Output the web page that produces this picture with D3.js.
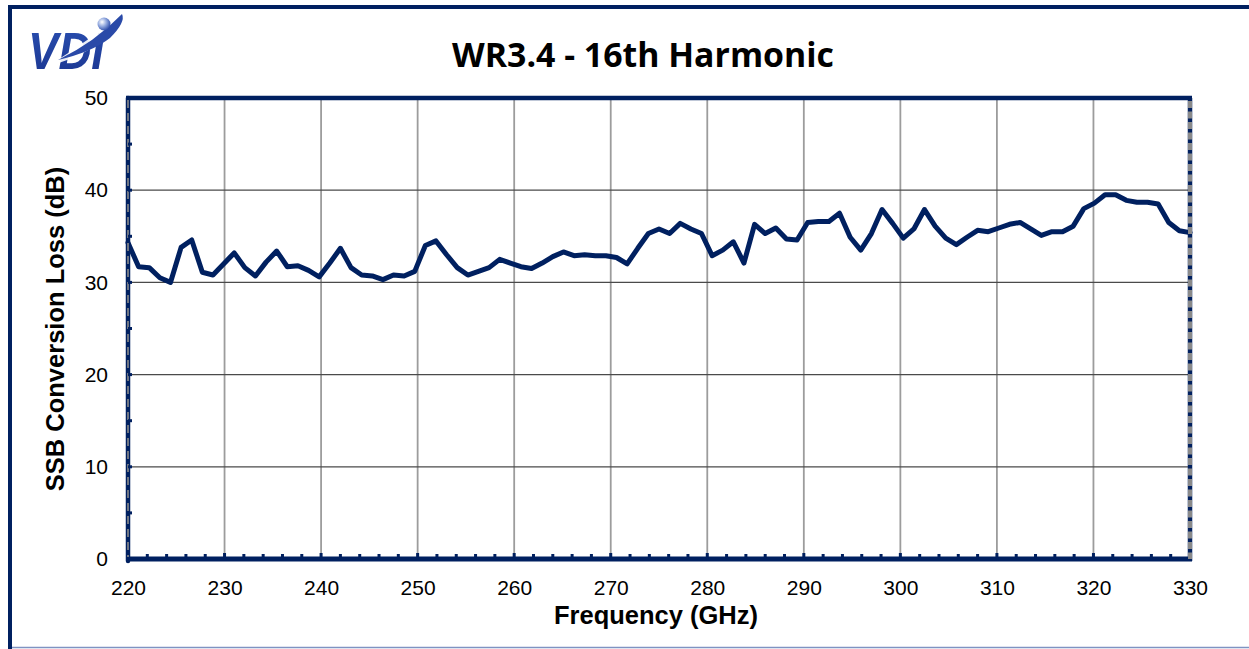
<!DOCTYPE html>
<html><head><meta charset="utf-8">
<script src="https://cdn.jsdelivr.net/npm/d3@7"></script>
<style>body{margin:0;background:#fff;} svg{display:block}</style>
</head><body>
<svg id="c" width="1249" height="649"></svg>
<script>
const title = "WR3.4 - 16th Harmonic";
const xLabel = "Frequency (GHz)";
const yLabel = "SSB Conversion Loss (dB)";
const xTicks = [220,230,240,250,260,270,280,290,300,310,320,330];
const yTicks = [0,10,20,30,40,50];
const freqs = [
220.0,221.1,222.2,223.3,224.4,225.5,226.6,227.7,228.8,229.9,
231.0,232.1,233.2,234.3,235.4,236.5,237.6,238.7,239.8,240.9,
242.0,243.1,244.2,245.3,246.4,247.5,248.6,249.7,250.8,251.9,
253.0,254.1,255.2,256.3,257.4,258.5,259.6,260.7,261.8,262.9,
264.0,265.1,266.2,267.3,268.4,269.5,270.6,271.7,272.8,273.9,
275.0,276.1,277.2,278.3,279.4,280.5,281.6,282.7,283.8,284.9,
286.0,287.1,288.2,289.3,290.4,291.5,292.6,293.7,294.8,295.9,
297.0,298.1,299.2,300.3,301.4,302.5,303.6,304.7,305.8,306.9,
308.0,309.1,310.2,311.3,312.4,313.5,314.6,315.7,316.8,317.9,
319.0,320.1,321.2,322.3,323.4,324.5,325.6,326.7,327.8,328.9,
330.0];
const loss = [
34.3,31.7,31.6,30.5,30.0,33.8,34.6,31.1,30.8,32.0,
33.2,31.6,30.7,32.2,33.4,31.7,31.8,31.3,30.6,32.1,
33.7,31.6,30.8,30.7,30.3,30.8,30.7,31.2,34.0,34.5,
33.0,31.6,30.8,31.2,31.6,32.5,32.1,31.7,31.5,32.1,
32.8,33.3,32.9,33.0,32.9,32.9,32.7,32.0,33.7,35.3,
35.8,35.3,36.4,35.8,35.3,32.9,33.5,34.4,32.1,36.3,
35.3,35.9,34.7,34.6,36.5,36.6,36.6,37.5,34.9,33.5,
35.3,37.9,36.4,34.8,35.8,37.9,36.1,34.8,34.1,34.9,
35.65,35.5,35.9,36.3,36.5,35.8,35.1,35.5,35.5,36.1,
38.0,38.6,39.5,39.5,38.9,38.7,38.7,38.5,36.5,35.6,
35.4];
const xMinor = d3.range(222, 330, 2);
const yMinor = d3.range(5, 50, 5);

const NAVY = "#002060";
const svg = d3.select("#c");
const L = 128, R = 1190, T = 98, B = 559;
const x = d3.scaleLinear().domain([220,330]).range([L,R]);
const y = d3.scaleLinear().domain([0,50]).range([B,T]);

// outer frame
svg.append("line").attr("x1",10).attr("x2",10).attr("y1",5).attr("y2",649).attr("stroke",NAVY).attr("stroke-width",4);
svg.append("line").attr("x1",8).attr("x2",1249).attr("y1",7).attr("y2",7).attr("stroke",NAVY).attr("stroke-width",4);
svg.append("line").attr("x1",12).attr("x2",1249).attr("y1",647.5).attr("y2",647.5).attr("stroke","#7f93c2").attr("stroke-width",1.5);

// logo
const defs = svg.append("defs");
const lg = defs.append("linearGradient").attr("id","lg").attr("x1","0").attr("y1","0").attr("x2","0").attr("y2","1");
lg.append("stop").attr("offset","0").attr("stop-color","#2a4fb0");
lg.append("stop").attr("offset","1").attr("stop-color","#1a3590");
const rg = defs.append("radialGradient").attr("id","rg").attr("cx","0.35").attr("cy","0.35").attr("r","0.7");
rg.append("stop").attr("offset","0").attr("stop-color","#ffffff");
rg.append("stop").attr("offset","0.5").attr("stop-color","#8fa6dd");
rg.append("stop").attr("offset","1").attr("stop-color","#2a4aa8");
const logo = svg.append("g");
logo.append("text").attr("x",28).attr("y",69).text("VDI")
  .attr("font-family","Liberation Sans, Arial, sans-serif").attr("font-weight","bold").attr("font-style","italic")
  .attr("font-size",51).attr("fill","url(#lg)").attr("textLength",76).attr("lengthAdjust","spacingAndGlyphs");
logo.append("path").attr("d","M48,66 Q90,40 122,13 Q118,30 92,48 Q72,60 48,66 Z").attr("fill","#ffffff").attr("opacity",0.9);
logo.append("path").attr("d","M58,60 Q95,42 122,14 Q126,22 110,38 Q92,52 58,60 Z").attr("fill","#2a4aa8");
logo.append("circle").attr("cx",104).attr("cy",24).attr("r",6.5).attr("fill","url(#rg)");

// title
svg.append("text").attr("x",643).attr("y",67).attr("text-anchor","middle")
  .attr("font-family","Open Sans, sans-serif").attr("font-weight","bold").attr("font-size",34)
  .attr("fill","#000").attr("textLength",382).attr("lengthAdjust","spacingAndGlyphs").text(title);

// gridlines
svg.append("g").selectAll("line").data(xTicks.slice(1,-1)).join("line")
  .attr("x1",d=>x(d)).attr("x2",d=>x(d)).attr("y1",T).attr("y2",B)
  .attr("stroke","#9c9c9c").attr("stroke-width",1.8);
svg.append("g").selectAll("line").data(yTicks.slice(1,-1)).join("line")
  .attr("x1",L).attr("x2",R).attr("y1",d=>y(d)).attr("y2",d=>y(d))
  .attr("stroke","#4a4a4a").attr("stroke-width",1.3);

// data line
const pts = freqs.map((f,i)=>[f,loss[i]]);
svg.append("path").datum(pts)
  .attr("d", d3.line().x(d=>x(d[0])).y(d=>y(d[1])))
  .attr("fill","none").attr("stroke",NAVY).attr("stroke-width",5)
  .attr("stroke-linejoin","round").attr("stroke-linecap","round");

// plot borders
svg.append("line").attr("x1",L-2).attr("x2",R+2).attr("y1",T).attr("y2",T).attr("stroke",NAVY).attr("stroke-width",4.5);
svg.append("line").attr("x1",L-2).attr("x2",R+2).attr("y1",B).attr("y2",B).attr("stroke",NAVY).attr("stroke-width",5);
svg.append("line").attr("x1",L).attr("x2",L).attr("y1",T).attr("y2",B+2).attr("stroke",NAVY).attr("stroke-width",4.5).attr("stroke-linecap","round");
svg.append("line").attr("x1",L).attr("x2",L).attr("y1",T+2).attr("y2",B-2).attr("stroke","#8a8a8a").attr("stroke-width",1.6).attr("stroke-dasharray","8,5");
svg.append("line").attr("x1",R).attr("x2",R).attr("y1",T).attr("y2",B+2).attr("stroke",NAVY).attr("stroke-width",4.5);
svg.append("line").attr("x1",R).attr("x2",R).attr("y1",T+3).attr("y2",B).attr("stroke","#8a8a8a").attr("stroke-width",4).attr("stroke-dasharray","7,3.5");

// minor ticks
svg.append("g").selectAll("rect").data(xMinor).join("rect")
  .attr("x",d=>x(d)-1.5).attr("y",d=>B-(d%10===0?6:5)).attr("width",3).attr("height",d=>d%10===0?6:5).attr("fill",NAVY);
svg.append("g").selectAll("rect").data(yMinor).join("rect")
  .attr("x",L).attr("y",d=>y(d)-1.5).attr("width",4).attr("height",3).attr("fill",NAVY);

// axes (labels only)
const ax = svg.append("g").attr("transform",`translate(0,${B})`)
  .call(d3.axisBottom(x).tickValues(xTicks).tickSize(0).tickPadding(21).tickFormat(d3.format("d")));
const ay = svg.append("g").attr("transform",`translate(${L},0)`)
  .call(d3.axisLeft(y).tickValues(yTicks).tickSize(0).tickPadding(20).tickFormat(d3.format("d")));
[ax,ay].forEach(g=>{
  g.select(".domain").remove();
  g.selectAll("text").attr("font-family","Liberation Sans, Arial, sans-serif").attr("font-size",21).attr("fill","#000");
});

// axis titles
svg.append("text").attr("x",656).attr("y",624).attr("text-anchor","middle")
  .attr("font-family","Liberation Sans, Arial, sans-serif").attr("font-weight","bold").attr("font-size",25.5).text(xLabel);
svg.append("text").attr("transform","translate(64,329) rotate(-90)").attr("text-anchor","middle")
  .attr("font-family","Liberation Sans, Arial, sans-serif").attr("font-weight","bold").attr("font-size",25.5).text(yLabel);
</script>
</body></html>
